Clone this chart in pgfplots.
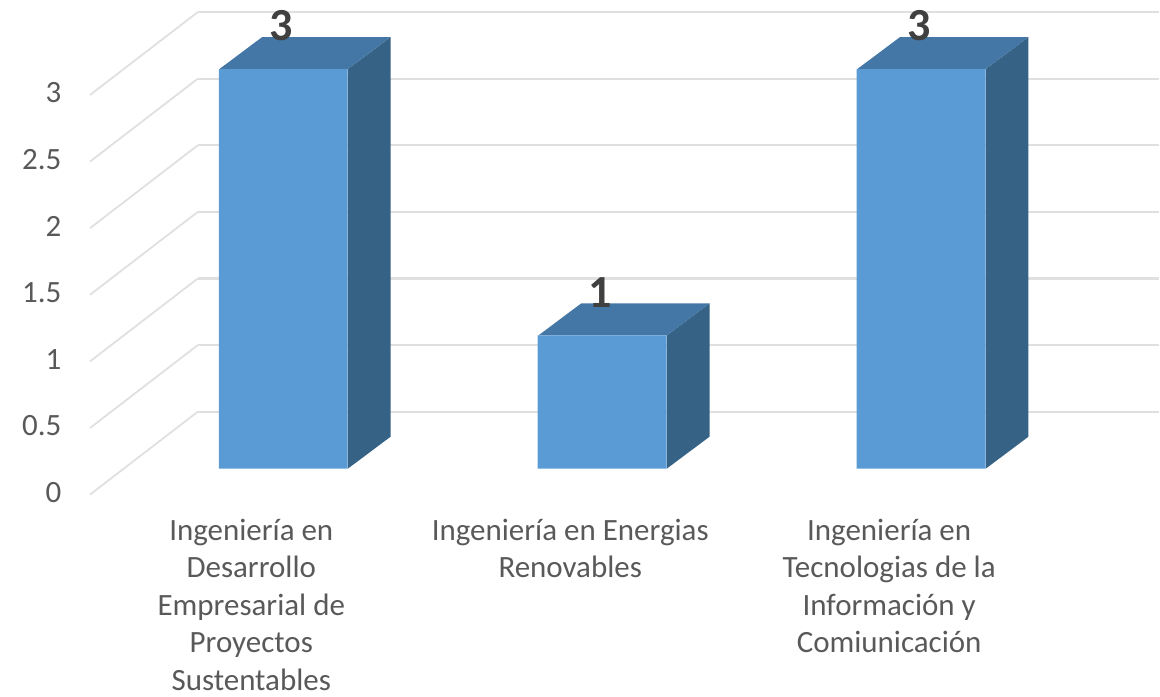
\documentclass[border=0pt]{standalone}
\usepackage{fontspec}
\setmainfont{Carlito}
\usepackage{pgfplots}
\pgfplotsset{compat=1.18}
\definecolor{barfront}{HTML}{5B9BD5}
\definecolor{bartop}{HTML}{4477A5}
\definecolor{barside}{HTML}{366286}
\definecolor{gridc}{HTML}{E0E0E0}
\definecolor{labelc}{HTML}{595959}
\definecolor{valuec}{HTML}{404040}

\begin{document}
\begin{tikzpicture}[x=1pt,y=1pt]
\begin{axis}[
    scale only axis,
    width=1094pt, height=510pt,
    xmin=-0.6813, xmax=2.7455,
    ymin=-0.3075, ymax=3.5175,
    clip=false,
    axis line style={draw=none},
    major tick length=0pt,
    xtick={0,1,2},
    xticklabels={
        {Ingeniería en\\Desarrollo\\Empresarial de\\Proyectos\\Sustentables},
        {Ingeniería en Energias\\Renovables},
        {Ingeniería en\\Tecnologias de la\\Información y\\Comiunicación}},
    xticklabel style={xshift=-32pt, yshift=-6pt, align=center, font=\fontsize{31}{37.5}\selectfont, text=labelc},
    ytick={0,0.5,1,1.5,2,2.5,3},
    yticklabels={0,0.5,1,1.5,2,2.5,3},
    yticklabel style={xshift=-1pt, yshift=-24pt, font=\fontsize{31}{34}\selectfont, text=labelc},
    tick label style={/pgf/number format/assume math mode=true},
]
% side wall grid
\addplot[gridc, line width=1.8pt] coordinates {(-0.606,-0.195) (-0.2678,0.4275)};
\addplot[gridc, line width=1.8pt] coordinates {(-0.606,0.305) (-0.2678,0.9275)};
\addplot[gridc, line width=1.8pt] coordinates {(-0.606,0.805) (-0.2678,1.4275)};
\addplot[gridc, line width=1.8pt] coordinates {(-0.606,1.305) (-0.2678,1.9275)};
\addplot[gridc, line width=1.8pt] coordinates {(-0.606,1.805) (-0.2678,2.4275)};
\addplot[gridc, line width=1.8pt] coordinates {(-0.606,2.305) (-0.2678,2.9275)};
\addplot[gridc, line width=1.8pt] coordinates {(-0.606,2.805) (-0.2678,3.4275)};
% back wall grid
\addplot[gridc, line width=2.2pt] coordinates {(-0.2678,0.4275) (2.7455,0.4275)};
\addplot[gridc, line width=2.2pt] coordinates {(-0.2678,0.9275) (2.7455,0.9275)};
\addplot[gridc, line width=2.2pt] coordinates {(-0.2678,1.4275) (2.7455,1.4275)};
\addplot[gridc, line width=2.2pt] coordinates {(-0.2678,1.9275) (2.7455,1.9275)};
\addplot[gridc, line width=2.2pt] coordinates {(-0.2678,2.4275) (2.7455,2.4275)};
\addplot[gridc, line width=2.2pt] coordinates {(-0.2678,2.9275) (2.7455,2.9275)};
\addplot[gridc, line width=2.2pt] coordinates {(-0.2678,3.4275) (2.7455,3.4275)};
% bar sides
\addplot[fill=barside, draw=none] coordinates {(0.2026,0) (0.3366,0.24) (0.3366,3.24) (0.2026,3)} -- cycle;
\addplot[fill=barside, draw=none] coordinates {(1.2026,0) (1.3366,0.24) (1.3366,1.24) (1.2026,1)} -- cycle;
\addplot[fill=barside, draw=none] coordinates {(2.2026,0) (2.3366,0.24) (2.3366,3.24) (2.2026,3)} -- cycle;
% bar tops
\addplot[fill=bartop, draw=none] coordinates {(-0.2,3) (0.2026,3) (0.3366,3.24) (-0.066,3.24)} -- cycle;
\addplot[fill=bartop, draw=none] coordinates {(0.8,1) (1.2026,1) (1.3366,1.24) (0.934,1.24)} -- cycle;
\addplot[fill=bartop, draw=none] coordinates {(1.8,3) (2.2026,3) (2.3366,3.24) (1.934,3.24)} -- cycle;
% bar fronts with values
\addplot[ybar, bar width=129pt, bar shift=0pt, fill=barfront, draw=none,
    nodes near coords,
    nodes near coords style={
        /pgf/number format/assume math mode=true,
        font=\fontsize{46}{46}\bfseries\selectfont, text=valuec,
        anchor=center, yshift=43pt, xshift=-2pt},
    ] coordinates {(0,3) (1,1) (2,3)};
\end{axis}
\path[use as bounding box] (-66pt,-187pt) rectangle (1094pt,510pt);
\end{tikzpicture}
\end{document}
